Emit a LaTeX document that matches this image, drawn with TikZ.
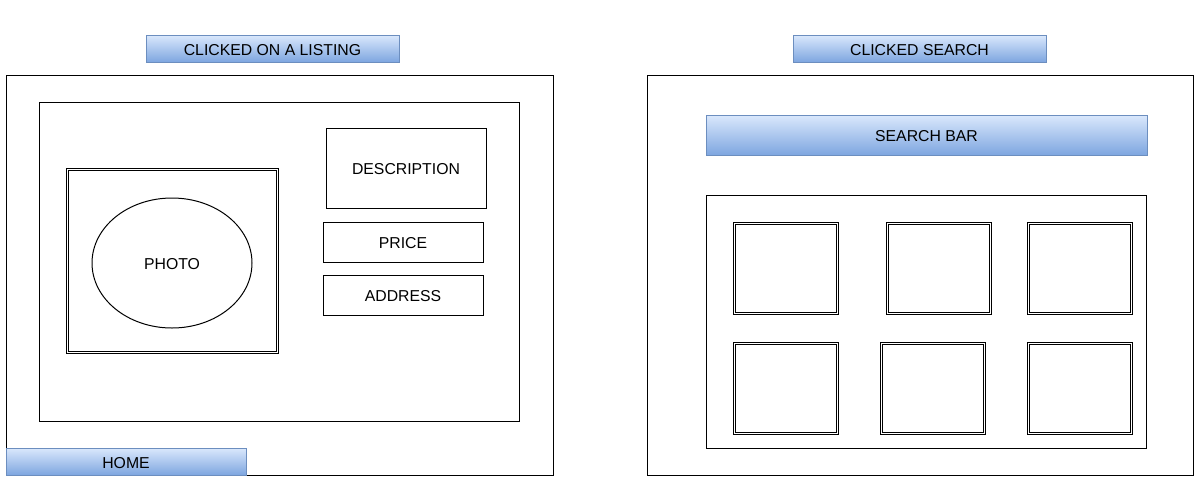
\documentclass[tikz,border=0pt]{standalone}
\usepackage{fontspec}
\setmainfont{Liberation Sans}
\usetikzlibrary{positioning,shapes.geometric}
\definecolor{btntop}{HTML}{DAE8FC}
\definecolor{btnbot}{HTML}{7EA6E0}
\definecolor{btnline}{HTML}{6C8EBF}
\tikzset{
  x=1pt, y=-1pt,
  frame/.style={draw=black, line width=1pt},
  dframe/.style={draw=black, line width=0.9pt, double=white, double distance=1.5pt},
  button/.style={draw=btnline, line width=0.9pt, top color=btntop, bottom color=btnbot},
  lbl/.style={font=\fontsize{15.8}{17}\selectfont, text=black, text height=13.5pt, text depth=0pt},
}
\begin{document}
\begin{tikzpicture}
\useasboundingbox (0,0) rectangle (1204,496);

% ---- listing page ----
\draw[frame] (6,75) rectangle (553,475);
\draw[frame] (39,102) rectangle (519,421);
\draw[dframe] (67.5,169.5) rectangle (277.5,352.5);
\node[frame, ellipse, minimum width=160pt, minimum height=130pt, lbl] (photo) at (172,263) {PHOTO};
\node[frame, minimum width=160pt, minimum height=80pt, lbl] (desc) at (406,168) {DESCRIPTION};
\node[frame, minimum width=160pt, minimum height=40pt, lbl] (price) at (403,242) {PRICE};
\node[frame, minimum width=160pt, minimum height=40pt, lbl] (addr) at (403,295) {ADDRESS};
\node[button, minimum width=240pt, minimum height=27pt, lbl] (home) at (126,461.5) {HOME};
\node[button, minimum width=253pt, minimum height=27pt, lbl] (t1) at (272.5,48.5) {CLICKED ON A LISTING};

% ---- search page ----
\node[button, minimum width=253pt, minimum height=27pt, lbl] (t2) at (919.5,48.5) {CLICKED SEARCH};
\draw[frame] (647,75) rectangle (1193,475);
\node[button, minimum width=441pt, minimum height=40pt, lbl] (search) at (926.5,135) {SEARCH BAR};
\draw[frame] (706,195) rectangle (1146,448);
\foreach \xa/\ya in {733/222, 886/222, 1027/222, 733/342, 880/342, 1027/342}
  \draw[dframe] (\xa+1.5,\ya+1.5) rectangle ++(103,90);
\end{tikzpicture}
\end{document}
